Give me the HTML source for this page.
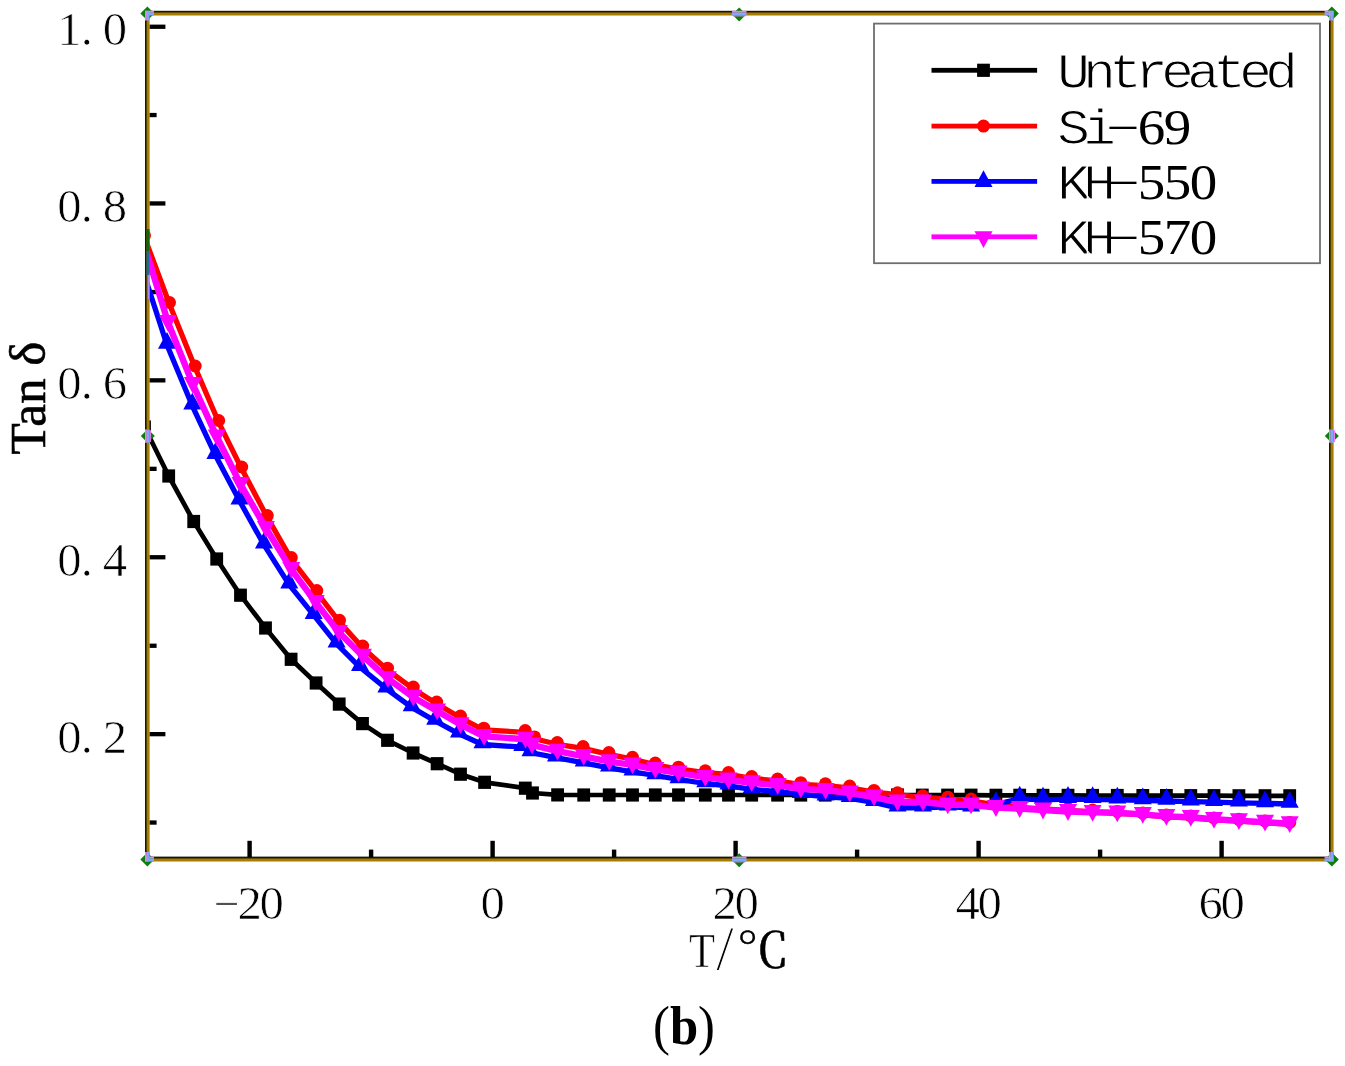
<!DOCTYPE html>
<html lang="en"><head><meta charset="utf-8"><title>Tan delta versus temperature (b)</title>
<style>html,body{margin:0;padding:0;background:#fff}body{width:1345px;height:1066px;overflow:hidden}svg{display:block}text{font-family:"Liberation Serif", serif;fill:#000}.lm{font-family:"Liberation Mono",monospace;letter-spacing:-6.364px;stroke:#fff;stroke-width:1.1px}.tk{stroke:#fff;stroke-width:0.7px}.lh{font-family:"Liberation Mono",monospace}.hy{font-family:"Liberation Mono",monospace}.xt{font-family:"Liberation Serif","Noto Serif CJK SC",serif}.ld{letter-spacing:-1.364px}</style></head><body>
<svg width="1345" height="1066" viewBox="0 0 1345 1066">
<rect width="1345" height="1066" fill="#fff"/>
<defs><clipPath id="plot"><rect x="147" y="13" width="1184" height="846"/></clipPath></defs>
<rect x="147" y="12.8" width="1184" height="845.8" fill="none" stroke="#1c1608" stroke-width="4"/>
<rect x="149.4" y="24.6" width="16" height="4.3" fill="#000"/>
<rect x="149.4" y="201.3" width="16" height="4.3" fill="#000"/>
<rect x="149.4" y="378.2" width="16" height="4.3" fill="#000"/>
<rect x="149.4" y="555.1" width="16" height="4.3" fill="#000"/>
<rect x="149.4" y="732" width="16" height="4.3" fill="#000"/>
<rect x="149.4" y="112.9" width="7.2" height="4.3" fill="#000"/>
<rect x="149.4" y="289.9" width="7.2" height="4.3" fill="#000"/>
<rect x="149.4" y="466.7" width="7.2" height="4.3" fill="#000"/>
<rect x="149.4" y="643.6" width="7.2" height="4.3" fill="#000"/>
<rect x="149.4" y="820.4" width="7.2" height="4.3" fill="#000"/>
<rect x="247.4" y="840.8" width="4.4" height="16.4" fill="#000"/>
<rect x="490.4" y="840.8" width="4.4" height="16.4" fill="#000"/>
<rect x="733.4" y="840.8" width="4.4" height="16.4" fill="#000"/>
<rect x="976.4" y="840.8" width="4.4" height="16.4" fill="#000"/>
<rect x="1219.4" y="840.8" width="4.4" height="16.4" fill="#000"/>
<rect x="368.9" y="849.6" width="4.4" height="7.6" fill="#000"/>
<rect x="611.9" y="849.6" width="4.4" height="7.6" fill="#000"/>
<rect x="854.9" y="849.6" width="4.4" height="7.6" fill="#000"/>
<rect x="1097.9" y="849.6" width="4.4" height="7.6" fill="#000"/>
<g clip-path="url(#plot)">
<polyline points="144.5,427 168.7,476 193.7,521.5 216.7,559 240.5,595.2 265.5,628 291.1,659.3 316.1,683 339.2,704.1 362.5,723.6 387.5,740.3 413.1,753 437.1,763.7 460.5,774.2 484.6,782.3 525.3,788.2 532.5,793 557.6,794.9 583.7,795 609.2,795 632.5,795 655.3,795 678.5,795 705.3,795 728.5,795 751.7,795 777.6,795 800.8,795 825.2,795 849.7,795 874,795 897.5,795 922.3,795.2 947.6,795.2 971.1,795.2 995.9,795.3 1019.7,795.3 1043,795.4 1068,795.4 1092.6,795.5 1117.3,795.5 1142.8,795.6 1166.4,795.6 1190.8,795.7 1214,795.7 1238.9,795.8 1265,795.8 1289.7,795.8" fill="none" stroke="#000" stroke-width="4.7" stroke-linejoin="round"/>
<rect x="138.1" y="420.4" width="12.8" height="13.2" fill="#000"/><rect x="162.3" y="469.4" width="12.8" height="13.2" fill="#000"/><rect x="187.3" y="514.9" width="12.8" height="13.2" fill="#000"/><rect x="210.3" y="552.4" width="12.8" height="13.2" fill="#000"/><rect x="234.1" y="588.6" width="12.8" height="13.2" fill="#000"/><rect x="259.1" y="621.4" width="12.8" height="13.2" fill="#000"/><rect x="284.7" y="652.7" width="12.8" height="13.2" fill="#000"/><rect x="309.7" y="676.4" width="12.8" height="13.2" fill="#000"/><rect x="332.8" y="697.5" width="12.8" height="13.2" fill="#000"/><rect x="356.1" y="717" width="12.8" height="13.2" fill="#000"/><rect x="381.1" y="733.7" width="12.8" height="13.2" fill="#000"/><rect x="406.7" y="746.4" width="12.8" height="13.2" fill="#000"/><rect x="430.7" y="757.1" width="12.8" height="13.2" fill="#000"/><rect x="454.1" y="767.6" width="12.8" height="13.2" fill="#000"/><rect x="478.2" y="775.7" width="12.8" height="13.2" fill="#000"/><rect x="518.9" y="781.6" width="12.8" height="13.2" fill="#000"/><rect x="526.1" y="786.4" width="12.8" height="13.2" fill="#000"/><rect x="551.2" y="788.3" width="12.8" height="13.2" fill="#000"/><rect x="577.3" y="788.4" width="12.8" height="13.2" fill="#000"/><rect x="602.8" y="788.4" width="12.8" height="13.2" fill="#000"/><rect x="626.1" y="788.4" width="12.8" height="13.2" fill="#000"/><rect x="648.9" y="788.4" width="12.8" height="13.2" fill="#000"/><rect x="672.1" y="788.4" width="12.8" height="13.2" fill="#000"/><rect x="698.9" y="788.4" width="12.8" height="13.2" fill="#000"/><rect x="722.1" y="788.4" width="12.8" height="13.2" fill="#000"/><rect x="745.3" y="788.4" width="12.8" height="13.2" fill="#000"/><rect x="771.2" y="788.4" width="12.8" height="13.2" fill="#000"/><rect x="794.4" y="788.4" width="12.8" height="13.2" fill="#000"/><rect x="818.8" y="788.4" width="12.8" height="13.2" fill="#000"/><rect x="843.3" y="788.4" width="12.8" height="13.2" fill="#000"/><rect x="867.6" y="788.4" width="12.8" height="13.2" fill="#000"/><rect x="891.1" y="788.4" width="12.8" height="13.2" fill="#000"/><rect x="915.9" y="788.6" width="12.8" height="13.2" fill="#000"/><rect x="941.2" y="788.6" width="12.8" height="13.2" fill="#000"/><rect x="964.7" y="788.6" width="12.8" height="13.2" fill="#000"/><rect x="989.5" y="788.7" width="12.8" height="13.2" fill="#000"/><rect x="1013.3" y="788.7" width="12.8" height="13.2" fill="#000"/><rect x="1036.6" y="788.8" width="12.8" height="13.2" fill="#000"/><rect x="1061.6" y="788.8" width="12.8" height="13.2" fill="#000"/><rect x="1086.2" y="788.9" width="12.8" height="13.2" fill="#000"/><rect x="1110.9" y="788.9" width="12.8" height="13.2" fill="#000"/><rect x="1136.4" y="789" width="12.8" height="13.2" fill="#000"/><rect x="1160" y="789" width="12.8" height="13.2" fill="#000"/><rect x="1184.4" y="789.1" width="12.8" height="13.2" fill="#000"/><rect x="1207.6" y="789.1" width="12.8" height="13.2" fill="#000"/><rect x="1232.5" y="789.2" width="12.8" height="13.2" fill="#000"/><rect x="1258.6" y="789.2" width="12.8" height="13.2" fill="#000"/><rect x="1283.3" y="789.2" width="12.8" height="13.2" fill="#000"/>
<polyline transform="translate(0 1.8)" points="144.5,235.5 169.5,302.5 195.2,366 218.7,420.5 241.7,467 267.3,515.6 291.3,557.6 316.8,590.6 339.5,620.3 362.7,646 387.5,668.2 413.3,687.1 436.7,702 460.5,716 483.8,728.2 525.2,730.5 534.5,736.9 557.3,742.5 583.1,746.6 608.9,752.6 632.5,757.3 655.3,763.1 678.5,767.2 705.3,770.8 728.5,772.5 751.7,776.5 777.6,779.1 800.8,782.7 825.4,783.8 849.7,786 874,790.4 897.5,792.8 922.7,795.7 947.8,797.2 971.1,799 995.9,803 1019.7,805.5 1043,807 1068,808.5 1092.6,810 1117.3,811.5 1142.8,813.1 1166.4,815.1 1190.8,816 1214,818 1238.9,819.3 1265,820.9 1289.7,822.4" fill="none" stroke="#f00" stroke-width="5.3" stroke-linejoin="round"/>
<circle cx="144.5" cy="235.5" r="6.5" fill="#f00"/><circle cx="169.5" cy="302.5" r="6.5" fill="#f00"/><circle cx="195.2" cy="366" r="6.5" fill="#f00"/><circle cx="218.7" cy="420.5" r="6.5" fill="#f00"/><circle cx="241.7" cy="467" r="6.5" fill="#f00"/><circle cx="267.3" cy="515.6" r="6.5" fill="#f00"/><circle cx="291.3" cy="557.6" r="6.5" fill="#f00"/><circle cx="316.8" cy="590.6" r="6.5" fill="#f00"/><circle cx="339.5" cy="620.3" r="6.5" fill="#f00"/><circle cx="362.7" cy="646" r="6.5" fill="#f00"/><circle cx="387.5" cy="668.2" r="6.5" fill="#f00"/><circle cx="413.3" cy="687.1" r="6.5" fill="#f00"/><circle cx="436.7" cy="702" r="6.5" fill="#f00"/><circle cx="460.5" cy="716" r="6.5" fill="#f00"/><circle cx="483.8" cy="728.2" r="6.5" fill="#f00"/><circle cx="525.2" cy="730.5" r="6.5" fill="#f00"/><circle cx="534.5" cy="736.9" r="6.5" fill="#f00"/><circle cx="557.3" cy="742.5" r="6.5" fill="#f00"/><circle cx="583.1" cy="746.6" r="6.5" fill="#f00"/><circle cx="608.9" cy="752.6" r="6.5" fill="#f00"/><circle cx="632.5" cy="757.3" r="6.5" fill="#f00"/><circle cx="655.3" cy="763.1" r="6.5" fill="#f00"/><circle cx="678.5" cy="767.2" r="6.5" fill="#f00"/><circle cx="705.3" cy="770.8" r="6.5" fill="#f00"/><circle cx="728.5" cy="772.5" r="6.5" fill="#f00"/><circle cx="751.7" cy="776.5" r="6.5" fill="#f00"/><circle cx="777.6" cy="779.1" r="6.5" fill="#f00"/><circle cx="800.8" cy="782.7" r="6.5" fill="#f00"/><circle cx="825.4" cy="783.8" r="6.5" fill="#f00"/><circle cx="849.7" cy="786" r="6.5" fill="#f00"/><circle cx="874" cy="790.4" r="6.5" fill="#f00"/><circle cx="897.5" cy="792.8" r="6.5" fill="#f00"/><circle cx="922.7" cy="795.7" r="6.5" fill="#f00"/><circle cx="947.8" cy="797.2" r="6.5" fill="#f00"/><circle cx="971.1" cy="799" r="6.5" fill="#f00"/><circle cx="995.9" cy="803" r="6.5" fill="#f00"/><circle cx="1019.7" cy="805.5" r="6.5" fill="#f00"/><circle cx="1043" cy="807" r="6.5" fill="#f00"/><circle cx="1068" cy="808.5" r="6.5" fill="#f00"/><circle cx="1092.6" cy="810" r="6.5" fill="#f00"/><circle cx="1117.3" cy="811.5" r="6.5" fill="#f00"/><circle cx="1142.8" cy="813.1" r="6.5" fill="#f00"/><circle cx="1166.4" cy="815.1" r="6.5" fill="#f00"/><circle cx="1190.8" cy="816" r="6.5" fill="#f00"/><circle cx="1214" cy="818" r="6.5" fill="#f00"/><circle cx="1238.9" cy="819.3" r="6.5" fill="#f00"/><circle cx="1265" cy="820.9" r="6.5" fill="#f00"/><circle cx="1289.7" cy="822.4" r="6.5" fill="#f00"/>
<polyline transform="translate(0 1.8)" points="144.5,274 167,343.2 192.3,404 215.4,453.4 239.5,499 264,543 289.3,583 313.7,613.3 336.6,642 360,665.5 386.4,687 411.7,705.6 435.2,719.2 459,732 482.5,742.7 522.3,745.3 530.5,750.7 556,755.8 583.7,761 609,766 632.5,770 655.3,773.7 678.5,777.6 705.3,781.7 728.5,784 751.7,787.6 777.6,789.8 800.8,792.4 825.6,795 849.7,796.5 874,800.5 897.5,806 923,806 947.8,805 971.1,806 995.9,802.5 1019.7,797 1043,798 1068,797.3 1092.6,797.5 1117.3,798 1142.8,798.6 1166.4,799.2 1190.8,799.8 1214,800.4 1238.9,801 1265,801.6 1289.7,802.2" fill="none" stroke="#00f" stroke-width="5.3" stroke-linejoin="round"/>
<path d="M167 332l9 16.8h-18z" fill="#00f"/><path d="M192.3 392.8l9 16.8h-18z" fill="#00f"/><path d="M215.4 442.2l9 16.8h-18z" fill="#00f"/><path d="M239.5 487.8l9 16.8h-18z" fill="#00f"/><path d="M264 531.8l9 16.8h-18z" fill="#00f"/><path d="M289.3 571.8l9 16.8h-18z" fill="#00f"/><path d="M313.7 602.1l9 16.8h-18z" fill="#00f"/><path d="M336.6 630.8l9 16.8h-18z" fill="#00f"/><path d="M360 654.3l9 16.8h-18z" fill="#00f"/><path d="M386.4 675.8l9 16.8h-18z" fill="#00f"/><path d="M411.7 694.4l9 16.8h-18z" fill="#00f"/><path d="M435.2 708l9 16.8h-18z" fill="#00f"/><path d="M459 720.8l9 16.8h-18z" fill="#00f"/><path d="M482.5 731.5l9 16.8h-18z" fill="#00f"/><path d="M522.3 734.1l9 16.8h-18z" fill="#00f"/><path d="M530.5 739.5l9 16.8h-18z" fill="#00f"/><path d="M556 744.6l9 16.8h-18z" fill="#00f"/><path d="M583.7 749.8l9 16.8h-18z" fill="#00f"/><path d="M609 754.8l9 16.8h-18z" fill="#00f"/><path d="M632.5 758.8l9 16.8h-18z" fill="#00f"/><path d="M655.3 762.5l9 16.8h-18z" fill="#00f"/><path d="M678.5 766.4l9 16.8h-18z" fill="#00f"/><path d="M705.3 770.5l9 16.8h-18z" fill="#00f"/><path d="M728.5 772.8l9 16.8h-18z" fill="#00f"/><path d="M751.7 776.4l9 16.8h-18z" fill="#00f"/><path d="M777.6 778.6l9 16.8h-18z" fill="#00f"/><path d="M800.8 781.2l9 16.8h-18z" fill="#00f"/><path d="M825.6 783.8l9 16.8h-18z" fill="#00f"/><path d="M849.7 785.3l9 16.8h-18z" fill="#00f"/><path d="M874 789.3l9 16.8h-18z" fill="#00f"/><path d="M897.5 794.8l9 16.8h-18z" fill="#00f"/><path d="M923 794.8l9 16.8h-18z" fill="#00f"/><path d="M947.8 793.8l9 16.8h-18z" fill="#00f"/><path d="M971.1 794.8l9 16.8h-18z" fill="#00f"/><path d="M995.9 791.3l9 16.8h-18z" fill="#00f"/><path d="M1019.7 785.8l9 16.8h-18z" fill="#00f"/><path d="M1043 786.8l9 16.8h-18z" fill="#00f"/><path d="M1068 786.1l9 16.8h-18z" fill="#00f"/><path d="M1092.6 786.3l9 16.8h-18z" fill="#00f"/><path d="M1117.3 786.8l9 16.8h-18z" fill="#00f"/><path d="M1142.8 787.4l9 16.8h-18z" fill="#00f"/><path d="M1166.4 788l9 16.8h-18z" fill="#00f"/><path d="M1190.8 788.6l9 16.8h-18z" fill="#00f"/><path d="M1214 789.2l9 16.8h-18z" fill="#00f"/><path d="M1238.9 789.8l9 16.8h-18z" fill="#00f"/><path d="M1265 790.4l9 16.8h-18z" fill="#00f"/><path d="M1289.7 791l9 16.8h-18z" fill="#00f"/>
<polyline transform="translate(0 1.8)" points="144.5,244 168,320.6 192.9,382.7 216.8,435 240.5,482.5 265.9,526.5 291.3,567.6 315.7,600.5 338.9,630.5 362.9,654.4 387.9,676.9 413.3,695.4 437.1,709.1 460.5,722.8 484,734.6 525.5,737.4 532,743 557.5,749.4 583.7,754.5 609.3,759.8 632.5,763 655.3,767.5 678.5,771.1 705.3,775.5 728.5,778.2 751.7,780.9 777.6,783.6 800.8,787.1 825.6,788.5 849.7,791.2 874,795.2 897.5,800.2 923,800.2 947.8,803 971.1,803 995.9,805.7 1019.7,806.7 1043,808.2 1068,809.7 1092.6,810.5 1117.3,811 1142.8,812.6 1166.4,814.6 1190.8,815.5 1214,817.5 1238.9,818.8 1265,820.4 1289.7,821.9" fill="none" stroke="#f0f" stroke-width="6.4" stroke-linejoin="round"/>
<path d="M168 331.8l9 -16.8h-18z" fill="#f0f"/><path d="M192.9 393.9l9 -16.8h-18z" fill="#f0f"/><path d="M216.8 446.2l9 -16.8h-18z" fill="#f0f"/><path d="M240.5 493.7l9 -16.8h-18z" fill="#f0f"/><path d="M265.9 537.7l9 -16.8h-18z" fill="#f0f"/><path d="M291.3 578.8l9 -16.8h-18z" fill="#f0f"/><path d="M315.7 611.7l9 -16.8h-18z" fill="#f0f"/><path d="M338.9 641.7l9 -16.8h-18z" fill="#f0f"/><path d="M362.9 665.6l9 -16.8h-18z" fill="#f0f"/><path d="M387.9 688.1l9 -16.8h-18z" fill="#f0f"/><path d="M413.3 706.6l9 -16.8h-18z" fill="#f0f"/><path d="M437.1 720.3l9 -16.8h-18z" fill="#f0f"/><path d="M460.5 734l9 -16.8h-18z" fill="#f0f"/><path d="M484 745.8l9 -16.8h-18z" fill="#f0f"/><path d="M525.5 748.6l9 -16.8h-18z" fill="#f0f"/><path d="M532 754.2l9 -16.8h-18z" fill="#f0f"/><path d="M557.5 760.6l9 -16.8h-18z" fill="#f0f"/><path d="M583.7 765.7l9 -16.8h-18z" fill="#f0f"/><path d="M609.3 771l9 -16.8h-18z" fill="#f0f"/><path d="M632.5 774.2l9 -16.8h-18z" fill="#f0f"/><path d="M655.3 778.7l9 -16.8h-18z" fill="#f0f"/><path d="M678.5 782.3l9 -16.8h-18z" fill="#f0f"/><path d="M705.3 786.7l9 -16.8h-18z" fill="#f0f"/><path d="M728.5 789.4l9 -16.8h-18z" fill="#f0f"/><path d="M751.7 792.1l9 -16.8h-18z" fill="#f0f"/><path d="M777.6 794.8l9 -16.8h-18z" fill="#f0f"/><path d="M800.8 798.3l9 -16.8h-18z" fill="#f0f"/><path d="M825.6 799.7l9 -16.8h-18z" fill="#f0f"/><path d="M849.7 802.4l9 -16.8h-18z" fill="#f0f"/><path d="M874 806.4l9 -16.8h-18z" fill="#f0f"/><path d="M897.5 811.4l9 -16.8h-18z" fill="#f0f"/><path d="M923 811.4l9 -16.8h-18z" fill="#f0f"/><path d="M947.8 814.2l9 -16.8h-18z" fill="#f0f"/><path d="M971.1 814.2l9 -16.8h-18z" fill="#f0f"/><path d="M995.9 816.9l9 -16.8h-18z" fill="#f0f"/><path d="M1019.7 817.9l9 -16.8h-18z" fill="#f0f"/><path d="M1043 819.4l9 -16.8h-18z" fill="#f0f"/><path d="M1068 820.9l9 -16.8h-18z" fill="#f0f"/><path d="M1092.6 821.7l9 -16.8h-18z" fill="#f0f"/><path d="M1117.3 822.2l9 -16.8h-18z" fill="#f0f"/><path d="M1142.8 823.8l9 -16.8h-18z" fill="#f0f"/><path d="M1166.4 825.8l9 -16.8h-18z" fill="#f0f"/><path d="M1190.8 826.7l9 -16.8h-18z" fill="#f0f"/><path d="M1214 828.7l9 -16.8h-18z" fill="#f0f"/><path d="M1238.9 830l9 -16.8h-18z" fill="#f0f"/><path d="M1265 831.6l9 -16.8h-18z" fill="#f0f"/><path d="M1289.7 833.1l9 -16.8h-18z" fill="#f0f"/>
</g>
<rect x="148.1" y="14" width="1184" height="846" fill="none" stroke="#a87c00" stroke-width="3"/>
<rect x="146.5" y="229" width="3" height="22" fill="#0b6b0b"/><rect x="146.5" y="251" width="3" height="24" fill="#16708c"/><rect x="148" y="275" width="1.6" height="24" fill="#a98be8"/>
<text class="tk" transform="scale(1.06 1)" x="65.57 81.89 108.49" y="45.5" font-size="46" text-anchor="middle">1.0</text>
<text class="tk" transform="scale(1.06 1)" x="65.57 81.89 108.49" y="222.3" font-size="46" text-anchor="middle">0.8</text>
<text class="tk" transform="scale(1.06 1)" x="65.57 81.89 108.49" y="399.2" font-size="46" text-anchor="middle">0.6</text>
<text class="tk" transform="scale(1.06 1)" x="65.57 81.89 108.49" y="576.1" font-size="46" text-anchor="middle">0.4</text>
<text class="tk" transform="scale(1.06 1)" x="65.57 81.89 108.49" y="752.9" font-size="46" text-anchor="middle">0.2</text>
<text class="tk" transform="scale(1.06 1)" x="213.96 235.47 256.23" y="919.3" font-size="46" text-anchor="middle"><tspan class="hy" dy="-8.4" font-size="28" textLength="47" lengthAdjust="spacingAndGlyphs">-</tspan><tspan dy="8.4">20</tspan></text>
<text class="tk" transform="scale(1.06 1)" x="464.72" y="919.3" font-size="46" text-anchor="middle">0</text>
<text class="tk" transform="scale(1.06 1)" x="683.58 704.34" y="919.3" font-size="46" text-anchor="middle">20</text>
<text class="tk" transform="scale(1.06 1)" x="912.83 933.58" y="919.3" font-size="46" text-anchor="middle">40</text>
<text class="tk" transform="scale(1.06 1)" x="1142.08 1162.83" y="919.3" font-size="46" text-anchor="middle">60</text>
<text class="xt" x="689" y="966.5" font-size="48"><tspan class="tk" textLength="26" lengthAdjust="spacingAndGlyphs">T</tspan><tspan class="tk" x="716" dy="3" font-size="64" style="stroke-width:1.1px">/</tspan><tspan x="736.5" dy="-3" textLength="53" lengthAdjust="spacingAndGlyphs" stroke="#000" stroke-width="0.5">℃</tspan></text>
<text transform="translate(45.3 454.5) rotate(-90)" font-size="51" stroke="#000" stroke-width="0.6" textLength="113" lengthAdjust="spacingAndGlyphs">Tan δ</text>
<text x="653" y="1044" font-size="54" textLength="62" lengthAdjust="spacingAndGlyphs">(<tspan font-weight="bold">b</tspan>)</text>
<rect x="874" y="23.6" width="446" height="239.6" fill="#fff" stroke="#6e6e6e" stroke-width="1.8"/>
<rect x="931.5" y="67.9" width="105.6" height="4.8" fill="#000"/>
<rect x="977.1" y="63.7" width="12.8" height="13.2" fill="#000"/>
<text transform="translate(1057.1 87.7) scale(1.1 1)" font-size="50"><tspan class="lm">Untreated</tspan></text>
<rect x="931.5" y="123.7" width="105.6" height="4.8" fill="#f00"/>
<circle cx="983.5" cy="126.1" r="6.5" fill="#f00"/>
<text transform="translate(1057.1 143.5) scale(1.1 1)" font-size="50"><tspan class="lm">Si</tspan><tspan class="lh" dx="-14.47" dy="-7.8" font-size="30" textLength="54" lengthAdjust="spacingAndGlyphs">-</tspan><tspan class="ld" dx="-13.5" dy="7.8">69</tspan></text>
<rect x="931.5" y="179" width="105.6" height="4.8" fill="#00f"/>
<path d="M983.5 170.2l9 16.8h-18z" fill="#00f"/>
<text transform="translate(1057.1 198.8) scale(1.1 1)" font-size="50"><tspan class="lm">KH</tspan><tspan class="lh" dx="-14.47" dy="-7.8" font-size="30" textLength="54" lengthAdjust="spacingAndGlyphs">-</tspan><tspan class="ld" dx="-13.5" dy="7.8">550</tspan></text>
<rect x="931.5" y="234.4" width="105.6" height="4.8" fill="#f0f"/>
<path d="M983.5 248l9 -16.8h-18z" fill="#f0f"/>
<text transform="translate(1057.1 254.2) scale(1.1 1)" font-size="50"><tspan class="lm">KH</tspan><tspan class="lh" dx="-14.47" dy="-7.8" font-size="30" textLength="54" lengthAdjust="spacingAndGlyphs">-</tspan><tspan class="ld" dx="-13.5" dy="7.8">570</tspan></text>
<path d="M147.4 6.6l7 7l-7 7l-7 -7z" fill="#0a7f0a"/>
<rect x="145" y="10.8" width="9" height="1.9" fill="#f07ef0"/><rect x="145" y="12.7" width="9" height="2.8" fill="#7ea8ff"/>
<rect x="145" y="10.8" width="1.8" height="9.7" fill="#f07ef0"/><rect x="146.8" y="10.8" width="2.7" height="9.7" fill="#7ea8ff"/>
<path d="M1331.8 6.6l7 7l-7 7l-7 -7z" fill="#0a7f0a"/>
<rect x="1324.6" y="10.8" width="9" height="1.9" fill="#f07ef0"/><rect x="1324.6" y="12.7" width="9" height="2.8" fill="#7ea8ff"/>
<rect x="1329" y="10.8" width="1.6" height="9.7" fill="#f07ef0"/><rect x="1330.6" y="10.8" width="3" height="9.7" fill="#7ea8ff"/>
<path d="M147.4 852.6l7 7l-7 7l-7 -7z" fill="#0a7f0a"/>
<rect x="145" y="856.6" width="9" height="1.9" fill="#f07ef0"/><rect x="145" y="858.5" width="9" height="3" fill="#7ea8ff"/>
<rect x="145" y="852" width="1.8" height="9.5" fill="#f07ef0"/><rect x="146.8" y="852" width="2.7" height="9.5" fill="#7ea8ff"/>
<path d="M1331.8 852.6l7 7l-7 7l-7 -7z" fill="#0a7f0a"/>
<rect x="1324.6" y="856.6" width="9" height="1.9" fill="#f07ef0"/><rect x="1324.6" y="858.5" width="9" height="3" fill="#7ea8ff"/>
<rect x="1329" y="852" width="1.6" height="9.5" fill="#f07ef0"/><rect x="1330.6" y="852" width="3" height="9.5" fill="#7ea8ff"/>
<path d="M739.2 7.4l7 7l-7 7l-7 -7z" fill="#0a7f0a"/>
<rect x="732" y="10.8" width="14.5" height="1.9" fill="#f07ef0"/><rect x="732" y="12.7" width="14.5" height="2.8" fill="#7ea8ff"/>
<rect x="733" y="15.5" width="12.5" height="0.9" fill="#f07ef0"/>
<path d="M739.2 853.2l7 7l-7 7l-7 -7z" fill="#0a7f0a"/>
<rect x="732" y="856.6" width="14.5" height="1.9" fill="#f07ef0"/><rect x="732" y="858.5" width="14.5" height="3" fill="#7ea8ff"/>
<rect x="733" y="861.5" width="12.5" height="0.9" fill="#f07ef0"/>
<path d="M147.8 429l7 7l-7 7l-7 -7z" fill="#0a7f0a"/>
<rect x="145" y="429.4" width="1.8" height="13.4" fill="#f07ef0"/><rect x="146.8" y="429.4" width="2.7" height="13.4" fill="#7ea8ff"/>
<rect x="149.5" y="430.2" width="1.4" height="11.8" fill="#f07ef0"/>
<path d="M1331.8 429l7 7l-7 7l-7 -7z" fill="#0a7f0a"/>
<rect x="1329" y="429.4" width="1.6" height="13.4" fill="#f07ef0"/><rect x="1330.6" y="429.4" width="3" height="13.4" fill="#7ea8ff"/>
<rect x="1333.6" y="430.2" width="1.4" height="11.8" fill="#f07ef0"/>
</svg></body></html>
